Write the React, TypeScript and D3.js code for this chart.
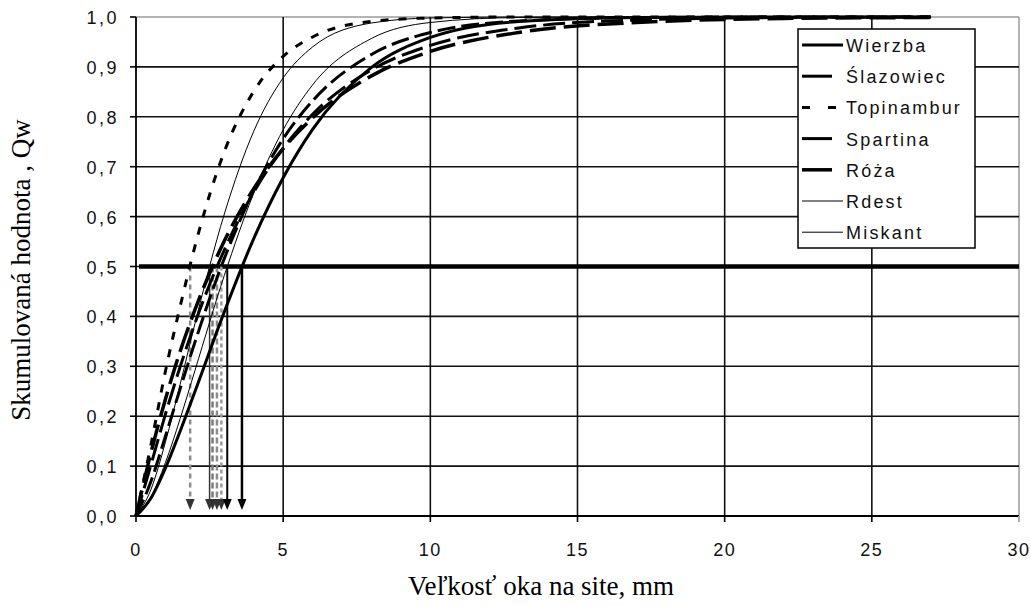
import * as d3 from "d3";

const meshSize = [0, 0.5, 1, 1.5, 2, 3, 4, 5, 6, 8, 10, 13, 17, 22, 27];

// cumulative values Qw for each plant
const wierzba = [0, 0.035, 0.096, 0.17, 0.249, 0.409, 0.556, 0.678, 0.775, 0.899, 0.959, 0.991, 0.999, 1, 1];
const slazowiec = [0, 0.101, 0.204, 0.299, 0.386, 0.533, 0.649, 0.737, 0.805, 0.894, 0.943, 0.978, 0.994, 0.999, 1];
const topinambur = [0, 0.14, 0.29, 0.42, 0.54, 0.73, 0.851, 0.921, 0.96, 0.991, 0.998, 1, 1, 1, 1];
const spartina = [0, 0.068, 0.16, 0.255, 0.348, 0.516, 0.652, 0.756, 0.832, 0.925, 0.969, 0.992, 0.999, 1, 1];
const roza = [0, 0.125, 0.234, 0.33, 0.413, 0.551, 0.656, 0.736, 0.798, 0.882, 0.931, 0.969, 0.989, 0.997, 0.999];
const rdest = [0, 0.052, 0.148, 0.264, 0.385, 0.605, 0.771, 0.878, 0.94, 0.988, 0.998, 1, 1, 1, 1];
const miskant = [0, 0.037, 0.107, 0.195, 0.291, 0.482, 0.647, 0.774, 0.864, 0.957, 0.989, 0.999, 1, 1, 1];

const seriesNames = ["Wierzba", "Ślazowiec", "Topinambur", "Spartina", "Róża", "Rdest", "Miskant"];
const seriesValues = [wierzba, slazowiec, topinambur, spartina, roza, rdest, miskant];

// median mesh size (Qw = 0.5) per plant, same order
const medians = [3.6, 2.75, 1.84, 2.9, 2.6, 2.5, 3.1];
const medianLevel = 0.5;
const arrowEnd = 0.012;

const xTicks = [0, 5, 10, 15, 20, 25, 30];
const yTicks = [0, 0.1, 0.2, 0.3, 0.4, 0.5, 0.6, 0.7, 0.8, 0.9, 1.0];

// line look per series
const lineStyles = [
  { width: 3, dash: "none", legendDash: "none", legendLen: 41 },
  { width: 3, dash: "22,7", legendDash: "none", legendLen: 30 },
  { width: 3, dash: "8,10", legendDash: "8,18", legendLen: 36 },
  { width: 3, dash: "18,6", legendDash: "none", legendLen: 30 },
  { width: 3.5, dash: "26,8", legendDash: "none", legendLen: 30 },
  { width: 1, dash: "none", legendDash: "none", legendLen: 41 },
  { width: 1, dash: "none", legendDash: "none", legendLen: 41 },
];
const arrowStyles = [
  { color: "#000", dash: "none", width: 2.5 },
  { color: "#8c8c8c", dash: "6,3", width: 2.5 },
  { color: "#8c8c8c", dash: "5,4", width: 2.5 },
  { color: "#9a9a9a", dash: "4,3", width: 2.5 },
  { color: "#7a7a7a", dash: "6,3", width: 2.5 },
  { color: "#333", dash: "none", width: 1.5 },
  { color: "#000", dash: "none", width: 2 },
];

const W = 1031;
const H = 606;
const left = 136, right = 1019, top = 17, bottom = 516;

const sansFont = "'Liberation Sans', Arial, sans-serif";
const serifFont = "'Liberation Serif', 'Times New Roman', serif";

export default function App() {
  const x = d3.scaleLinear().domain([0, 30]).range([left, right]);
  const y = d3.scaleLinear().domain([0, 1]).range([bottom, top]);

  const line = d3
    .line<number>()
    .x((_, i) => x(meshSize[i]))
    .y((d) => y(d))
    .curve(d3.curveMonotoneX);

  const fmt = (v: number) => v.toFixed(1).replace(".", ",");

  const legendX = 798, legendY = 29, legendW = 177, legendH = 219;
  const legendRow = 31.2;

  return (
    <svg
      width={W}
      height={H}
      style={{ position: "absolute", left: 0, top: 0, background: "#fff" }}
    >
      {/* plot border (top, right) */}
      <line x1={left} x2={right} y1={top} y2={top} stroke="#9a9a9a" strokeWidth={1.5} />
      <line x1={right} x2={right} y1={top} y2={bottom} stroke="#9a9a9a" strokeWidth={1.5} />

      {/* grid */}
      {yTicks.slice(1, -1).map((t) => (
        <line key={"gy" + t} x1={left} x2={right} y1={y(t)} y2={y(t)} stroke="#111" strokeWidth={1.6} />
      ))}
      {xTicks.slice(1, -1).map((t) => (
        <line key={"gx" + t} x1={x(t)} x2={x(t)} y1={top} y2={bottom} stroke="#111" strokeWidth={1.6} />
      ))}

      {/* axes */}
      <line x1={left} x2={left} y1={top} y2={bottom} stroke="#000" strokeWidth={1.8} />
      <line x1={left} x2={right} y1={bottom} y2={bottom} stroke="#000" strokeWidth={1.8} />
      {yTicks.map((t) => (
        <g key={"ty" + t}>
          <line x1={left - 6} x2={left} y1={y(t)} y2={y(t)} stroke="#000" strokeWidth={1.6} />
          <text
            x={left - 17}
            y={y(t) + 7}
            textAnchor="end"
            fontFamily={sansFont}
            fontSize={18}
            letterSpacing={2.5}
            fill="#111"
          >
            {fmt(t)}
          </text>
        </g>
      ))}
      {xTicks.map((t) => (
        <g key={"tx" + t}>
          <line
            x1={x(t)}
            x2={x(t)}
            y1={bottom}
            y2={bottom + 6}
            stroke={t === 30 ? "#9a9a9a" : "#000"}
            strokeWidth={1.6}
          />
          <text
            x={x(t)}
            y={556}
            textAnchor="middle"
            fontFamily={sansFont}
            fontSize={18}
            letterSpacing={1.5}
            fill="#111"
          >
            {t}
          </text>
        </g>
      ))}

      {/* Qw = 0.5 line */}
      <line
        x1={x(0) + 3}
        x2={right}
        y1={y(medianLevel)}
        y2={y(medianLevel)}
        stroke="#000"
        strokeWidth={4.5}
      />

      {/* median arrows */}
      {medians.map((m, i) => {
        const s = arrowStyles[i];
        const xm = x(m);
        const tip = y(arrowEnd);
        return (
          <g key={"ar" + i}>
            <line
              x1={xm}
              x2={xm}
              y1={y(medianLevel)}
              y2={tip - 8}
              stroke={s.color}
              strokeWidth={s.width}
              strokeDasharray={s.dash}
            />
            <path
              d={`M${xm - 4.5},${tip - 11}L${xm + 4.5},${tip - 11}L${xm},${tip}Z`}
              fill={s.color === "#000" ? "#000" : "#333"}
            />
          </g>
        );
      })}

      {/* curves */}
      {seriesValues.map((vals, i) => (
        <path
          key={"c" + i}
          d={line(vals) || ""}
          fill="none"
          stroke="#000"
          strokeWidth={lineStyles[i].width}
          strokeDasharray={lineStyles[i].dash}
        />
      ))}

      {/* legend */}
      <rect
        x={legendX}
        y={legendY}
        width={legendW}
        height={legendH}
        fill="#fff"
        stroke="#000"
        strokeWidth={1.5}
      />
      {seriesNames.map((name, i) => {
        const cy = legendY + 16 + i * legendRow;
        const st = lineStyles[i];
        return (
          <g key={"lg" + i}>
            <line
              x1={legendX + 4}
              x2={legendX + 4 + st.legendLen}
              y1={cy}
              y2={cy}
              stroke="#000"
              strokeWidth={st.width}
              strokeDasharray={st.legendDash}
            />
            <text
              x={legendX + 48}
              y={cy + 7}
              fontFamily={sansFont}
              fontSize={18}
              letterSpacing={2.2}
              fill="#111"
            >
              {name}
            </text>
          </g>
        );
      })}

      {/* axis titles */}
      <text x={541} y={595} textAnchor="middle" fontFamily={serifFont} fontSize={27} fill="#000">
        Veľkosť oka na site, mm
      </text>
      <text
        transform={`translate(30,270) rotate(-90)`}
        textAnchor="middle"
        fontFamily={serifFont}
        fontSize={27}
        fill="#000"
      >
        Skumulovaná hodnota , Qw
      </text>
    </svg>
  );
}
